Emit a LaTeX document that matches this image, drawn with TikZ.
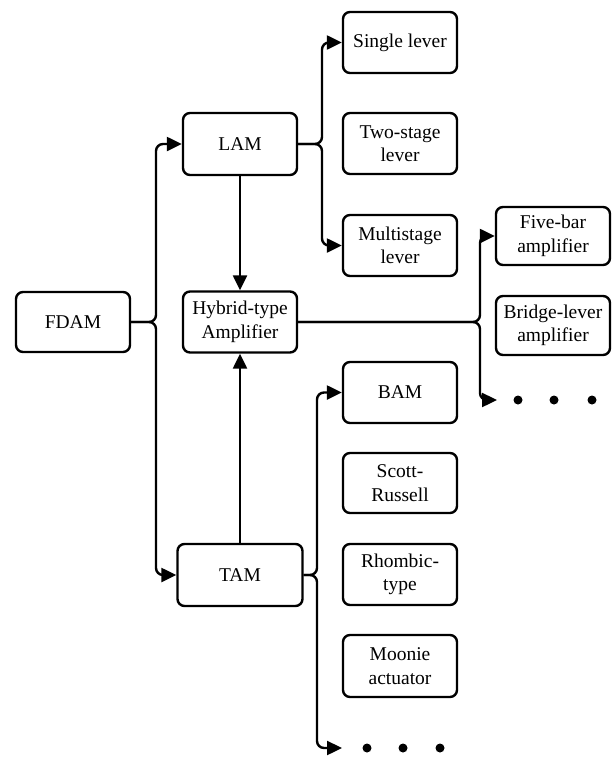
\documentclass[tikz,border=0pt]{standalone}
\usepackage{fontspec}
\setmainfont{Liberation Serif}
\newfontfamily\tnr{Liberation Serif}
\usetikzlibrary{arrows.meta}
\begin{document}
\begin{tikzpicture}[x=1pt,y=-1pt,
  box/.style={draw,line width=2.4pt,rounded corners=7pt,align=center,inner sep=0pt,
    minimum width=114pt,minimum height=61pt,font=\tnr\fontsize{19.5}{23.5}\selectfont},
  conn/.style={line width=2.4pt,rounded corners=7pt},
  arr/.style={conn,-{Triangle[length=15pt,width=14pt]}},
  dot/.style={circle,fill=black,inner sep=0pt,minimum size=9pt}]
\useasboundingbox (0,0) rectangle (616,758);
% nodes
\node[box,minimum height=60pt] (FDAM) at (73,322) {FDAM};
\node[box,minimum height=62pt] (LAM) at (240,144) {LAM};
\node[box] (HYB) at (240,322) {Hybrid-type\\Amplifier};
\node[box,minimum width=125pt,minimum height=62pt] (TAM) at (240,575) {TAM};
\node[box] (SL) at (400,42.5) {Single lever};
\node[box] (TS) at (400,143.5) {Two-stage\\lever};
\node[box] (MS) at (400,245.5) {Multistage\\lever};
\node[box,minimum height=58pt] (FB) at (553,236) {Five-bar\\amplifier};
\node[box,minimum height=59pt] (BL) at (553,325.5) {Bridge-lever\\amplifier};
\node[box] (BAM) at (400,392.5) {BAM};
\node[box,minimum height=60pt] (SR) at (400,483) {Scott-\\Russell};
\node[box] (RT) at (400,574.5) {Rhombic-\\type};
\node[box,minimum height=62pt] (MA) at (400,666) {Moonie\\actuator};
% dots
\node[dot] (h1) at (518,400) {};
\node[dot] (h2) at (554,400) {};
\node[dot] (h3) at (592,400) {};
\node[dot] (t1) at (367,748) {};
\node[dot] (t2) at (403,748) {};
\node[dot] (t3) at (440,748) {};
% junction coordinates
\coordinate (fj) at (156,322);
\coordinate (lj) at (322,144);
\coordinate (hj) at (480,322);
\coordinate (tj) at (317,575);
\coordinate (hend) at (497,400);
\coordinate (tend) at (342,748);
% connectors
\draw[arr] (FDAM.east) -- (fj) |- (LAM.west);
\draw[arr] (FDAM.east) -- (fj) |- (TAM.west);
\draw[arr] (LAM.east) -- (lj) |- (SL.west);
\draw[arr] (LAM.east) -- (lj) |- (MS.west);
\draw[arr] (HYB.east) -- (hj) |- (FB.west);
\draw[arr] (HYB.east) -- (hj) |- (hend);
\draw[arr] (TAM.east) -- (tj) |- (BAM.west);
\draw[arr] (TAM.east) -- (tj) |- (tend);
\draw[arr] (LAM.south) -- (HYB.north);
\draw[arr] (TAM.north) -- (HYB.south);
\end{tikzpicture}
\end{document}
